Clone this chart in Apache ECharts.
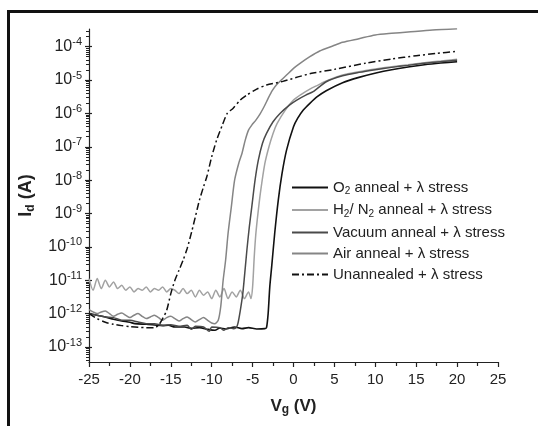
<!DOCTYPE html>
<html>
<head>
<meta charset="utf-8">
<script src="https://cdn.jsdelivr.net/npm/echarts@6/dist/echarts.min.js"></script>
<style>
html, body { margin: 0; padding: 0; background: #fff; overflow: hidden; }
#chart { width: 538px; height: 426px; }
/* thick frame of the cropped figure (top and left edges only) */
#frame { position: absolute; left: 7px; top: 10px; width: 540px; height: 430px;
  border-top: 3px solid #111; border-left: 3px solid #111; pointer-events: none; }
</style>
</head>
<body>
<div id="chart"></div>
<div id="frame"></div>
<script>
// gate voltage (V) and log10 of drain current (A) for every curve
const o2V   = [-25, -24, -23, -22, -21, -20, -19.4, -18, -17, -16, -15.3, -14.5, -13.3, -12.5, -11.5, -10.5, -9.6, -9, -8.3, -7.2, -6.3, -5.5, -4.5, -3.5, -3.3, -3.1, -2.9, -2.67, -2.3, -1.86, -1.4, -0.85, 0, 0.5, 1.2, 2, 2.9, 4, 6, 8, 10.2, 12, 14.2, 16, 18, 20];
const o2Log = [-12.0, -12.05, -12.1, -12.17, -12.22, -12.26, -12.3, -12.32, -12.34, -12.36, -12.35, -12.4, -12.4, -12.44, -12.42, -12.47, -12.5, -12.43, -12.46, -12.4, -12.45, -12.42, -12.46, -12.45, -12.42, -12.0, -11.2, -10.6, -9.6, -8.6, -7.8, -7.1, -6.4, -6.15, -5.9, -5.7, -5.5, -5.32, -5.08, -4.92, -4.78, -4.69, -4.6, -4.54, -4.49, -4.45];

const h2V   = [-25, -24.5, -24, -23.5, -23, -22.5, -22, -21.5, -21, -20.5, -20, -19.5, -19, -18.5, -18, -17.5, -17, -16.5, -16, -15.5, -15, -14.5, -14, -13.5, -13, -12.5, -12, -11.5, -11, -10.5, -10, -9.5, -9, -8.5, -8, -7.5, -7, -6.5, -6, -5.5, -5.2, -5.0, -4.8, -4.6, -4.3, -4.0, -3.5, -3.0, -2.5, -2.0, -1.0, 0, 1, 2, 3, 4, 6, 8, 10, 12, 14, 16, 18, 20];
const h2Log = [-10.95, -11.3, -10.95, -11.25, -11.0, -11.2, -11.05, -11.25, -11.15, -11.3, -11.2, -11.35, -11.25, -11.3, -11.2, -11.35, -11.25, -11.3, -11.2, -11.35, -11.25, -11.3, -11.4, -11.25, -11.4, -11.3, -11.5, -11.3, -11.45, -11.35, -11.55, -11.3, -11.5, -11.25, -11.55, -11.35, -11.5, -11.3, -11.55, -11.35, -11.55, -11.2, -10.3, -9.6, -8.9, -8.3, -7.5, -7.0, -6.6, -6.3, -5.9, -5.6, -5.42, -5.27, -5.15, -5.03, -4.85, -4.75, -4.67, -4.6, -4.54, -4.48, -4.43, -4.38];

const vacV   = [-25, -24, -23, -22, -21, -20, -19, -18, -17, -16, -15, -14, -13, -12.5, -12, -11, -10.3, -10, -9, -8.5, -8, -7.3, -7, -6.8, -6.5, -6.2, -6.0, -5.7, -5.4, -5.1, -4.7, -4.3, -3.8, -3.3, -2.5, -1.65, -0.5, 0.4, 1.5, 2.4, 4, 6, 8, 10, 12, 14, 16, 18, 20];
const vacLog = [-12.0, -12.05, -12.1, -12.12, -12.2, -12.2, -12.25, -12.3, -12.3, -12.35, -12.33, -12.38, -12.35, -12.47, -12.38, -12.4, -12.53, -12.4, -12.42, -12.5, -12.42, -12.45, -12.42, -12.3, -11.9, -11.4, -10.9, -10.1, -9.4, -8.8, -8.0, -7.4, -6.9, -6.6, -6.25, -6.0, -5.75, -5.6, -5.45, -5.35, -5.05, -4.87, -4.77, -4.69, -4.62, -4.56, -4.5, -4.45, -4.41];

const airV   = [-25, -24.5, -24, -23.5, -23, -22.5, -22, -21.5, -21, -20.5, -20, -19.5, -19, -18.5, -18, -17.5, -17, -16.5, -16, -15.5, -15, -14.5, -14, -13.5, -13, -12.5, -12, -11.5, -11, -10.5, -10, -9.6, -9.2, -8.9, -8.6, -8.3, -8.0, -7.6, -7.2, -6.7, -6.3, -5.9, -5.5, -5.1, -4.6, -4.1, -3.6, -3.1, -2.6, -2.1, -1.5, -0.85, 0, 0.8, 2, 3.2, 4.8, 6, 8, 10, 12, 14, 17, 20];
const airLog = [-11.88, -11.95, -12.0, -11.95, -11.92, -12.0, -12.08, -12.02, -11.98, -12.05, -12.12, -12.05, -12.0, -12.08, -12.15, -12.1, -12.05, -12.12, -12.2, -12.12, -12.08, -12.15, -12.22, -12.15, -12.1, -12.18, -12.25, -12.18, -12.12, -12.2, -12.28, -12.3, -12.2, -11.8, -11.0, -10.4, -9.6, -8.8, -8.0, -7.5, -7.2, -6.8, -6.5, -6.35, -6.2, -6.02, -5.8, -5.55, -5.32, -5.15, -5.0, -4.85, -4.65, -4.5, -4.3, -4.13, -3.98, -3.87, -3.76, -3.65, -3.6, -3.56, -3.5, -3.46];

const unV   = [-25, -24, -23, -22, -21, -20, -19, -18, -17, -16.5, -16, -15.5, -15, -14.5, -14, -13.5, -13, -12.4, -12, -11.5, -11, -10.6, -10, -9.4, -8.7, -8.1, -7.4, -6.5, -5.7, -4.5, -3.3, -1.3, 0.8, 2.4, 5, 8.9, 12, 15, 17.5, 20];
const unLog = [-12.0, -12.15, -12.26, -12.32, -12.36, -12.39, -12.41, -12.42, -12.42, -12.35, -12.15, -11.9, -11.4, -11.0, -10.7, -10.4, -10.05, -9.5, -9.1, -8.6, -8.2, -7.9, -7.3, -6.8, -6.35, -6.0, -5.85, -5.6, -5.45, -5.27, -5.15, -5.04, -4.89, -4.79, -4.68, -4.49, -4.37, -4.27, -4.2, -4.14];

const seriesNames = ['O2 anneal + λ stress', 'H2/ N2 anneal + λ stress', 'Vacuum anneal + λ stress', 'Air anneal + λ stress', 'Unannealed + λ stress'];
const legendLabels = [
  '{t|O}{s|2}{t| anneal + λ stress}',
  '{t|H}{s|2}{t|/ N}{s|2}{t| anneal + λ stress}',
  '{t|Vacuum anneal + λ stress}',
  '{t|Air anneal + λ stress}',
  '{t|Unannealed + λ stress}'
];

const xTicks = [-25, -20, -15, -10, -5, 0, 5, 10, 15, 20, 25];
const yDecades = [-13, -12, -11, -10, -9, -8, -7, -6, -5, -4];
const yMin = -13.45, yMax = -3.47;

// log-spaced minor tick positions (2..9 x 10^n)
const yMinor = [];
for (let n = -14; n <= -4; n++) {
  for (let k = 2; k <= 9; k++) {
    const v = n + Math.log10(k);
    if (v > yMin && v < yMax) yMinor.push(v);
  }
}

const zip = (xs, ys) => xs.map((x, i) => [x, ys[i]]);
const dataSets = [zip(o2V, o2Log), zip(h2V, h2Log), zip(vacV, vacLog), zip(airV, airLog), zip(unV, unLog)];
const colors = ['#111111', '#a2a2a2', '#4a4a4a', '#858585', '#111111'];

const font = 'Liberation Sans, Arial, sans-serif';
const axisColor = '#222';

const chart = echarts.init(document.getElementById('chart'));

const yBase = {
  type: 'value', min: yMin, max: yMax, position: 'left',
  splitLine: { show: false }
};

chart.setOption({
  animation: false,
  textStyle: { fontFamily: font },
  grid: { left: 89, right: 40, top: 29, bottom: 64 },
  legend: {
    orient: 'vertical',
    left: 291, top: 180, padding: 0,
    itemWidth: 36, itemHeight: 14, itemGap: 6,
    // hide the marker the line icon carries, keep only the line sample
    itemStyle: { opacity: 0 },
    data: seriesNames,
    formatter: name => legendLabels[seriesNames.indexOf(name)],
    textStyle: {
      color: '#222', fontSize: 15, fontFamily: font,
      rich: {
        t: { fontSize: 15, lineHeight: 18, color: '#222', fontFamily: font },
        s: { fontSize: 10, lineHeight: 9, verticalAlign: 'bottom', color: '#222', fontFamily: font }
      }
    }
  },
  xAxis: {
    type: 'value', min: -25, max: 25, interval: 5,
    name: '{b|V}{s|g}{b| (V)}',
    nameLocation: 'middle', nameGap: 34,
    nameTextStyle: {
      rich: {
        b: { fontSize: 17, fontWeight: 'bold', lineHeight: 20, color: '#222', fontFamily: font },
        s: { fontSize: 12, fontWeight: 'bold', lineHeight: 12, verticalAlign: 'bottom', color: '#222', fontFamily: font }
      }
    },
    axisLine: { onZero: false, lineStyle: { color: axisColor, width: 1.2 } },
    axisTick: { length: 5, lineStyle: { color: axisColor, width: 1.2 } },
    minorTick: { show: true, splitNumber: 2, length: 4, lineStyle: { color: axisColor, width: 1.2 } },
    axisLabel: { customValues: xTicks, margin: 10, fontSize: 15, color: '#222' },
    splitLine: { show: false }
  },
  yAxis: [
    Object.assign({}, yBase, {
      name: '{b|I}{s|d}{b| (A)}',
      nameLocation: 'middle', nameGap: 52,
      nameTextStyle: {
        rich: {
          b: { fontSize: 18, fontWeight: 'bold', lineHeight: 22, color: '#222', fontFamily: font },
          s: { fontSize: 12, fontWeight: 'bold', lineHeight: 12, verticalAlign: 'bottom', color: '#222', fontFamily: font }
        }
      },
      axisLine: { show: true, onZero: false, lineStyle: { color: axisColor, width: 1.2 } },
      axisTick: { show: true, customValues: yDecades, length: 4, lineStyle: { color: axisColor, width: 1.2 } },
      axisLabel: {
        customValues: yDecades, margin: 7,
        formatter: v => '{b|10}{e|' + v + '}',
        rich: {
          b: { fontSize: 16, lineHeight: 20, color: '#222', fontFamily: font },
          e: { fontSize: 11, lineHeight: 11, verticalAlign: 'top', color: '#222', fontFamily: font }
        }
      }
    }),
    Object.assign({}, yBase, {
      axisLine: { show: false, onZero: false },
      axisTick: { show: true, inside: true, customValues: yDecades, length: 3, lineStyle: { color: axisColor, width: 1.2 } },
      axisLabel: { show: false }
    }),
    Object.assign({}, yBase, {
      axisLine: { show: false, onZero: false },
      axisTick: { show: true, customValues: yMinor, length: 3, lineStyle: { color: axisColor, width: 1 } },
      axisLabel: { show: false }
    })
  ],
  series: dataSets.map((d, i) => ({
    name: seriesNames[i],
    type: 'line',
    data: d,
    symbol: 'none',
    smooth: 0.25,
    color: colors[i],
    lineStyle: {
      color: colors[i],
      width: i === 0 ? 1.6 : 1.5,
      type: i === 4 ? [7, 3, 2, 3] : 'solid'
    }
  }))
});
</script>
</body>
</html>
